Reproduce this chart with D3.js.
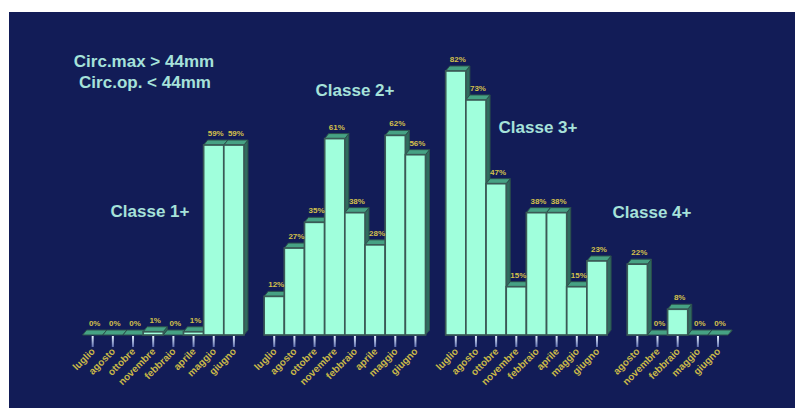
<!DOCTYPE html>
<html>
<head>
<meta charset="utf-8">
<script src="https://cdn.jsdelivr.net/npm/d3@7"></script>
<style>
  html, body { margin: 0; padding: 0; background: #ffffff; }
  svg { display: block; }
</style>
</head>
<body>
<svg id="chart" width="795" height="408"></svg>
<script>
// Month categories for each size class
const months1 = ["luglio", "agosto", "ottobre", "novembre", "febbraio", "aprile", "maggio", "giugno"];
const months2 = ["luglio", "agosto", "ottobre", "novembre", "febbraio", "aprile", "maggio", "giugno"];
const months3 = ["luglio", "agosto", "ottobre", "novembre", "febbraio", "aprile", "maggio", "giugno"];
const months4 = ["agosto", "novembre", "febbraio", "maggio", "giugno"];

// Percentages per month
const classe1 = [0, 0, 0, 1, 0, 1, 59, 59];
const classe2 = [12, 27, 35, 61, 38, 28, 62, 56];
const classe3 = [82, 73, 47, 15, 38, 38, 15, 23];
const classe4 = [22, 0, 8, 0, 0];

const classNames = ["Classe 1+", "Classe 2+", "Classe 3+", "Classe 4+"];
const subtitle = ["Circ.max > 44mm", "Circ.op. < 44mm"];

const W = 795, H = 408;
const svg = d3.select("#chart");

// dark panel
svg.append("rect")
  .attr("x", 9).attr("y", 12)
  .attr("width", W - 9).attr("height", H - 12)
  .attr("fill", "#121c57");

// flatten the groups into slots with an empty slot between groups
const groups = [
  { months: months1, values: classe1 },
  { months: months2, values: classe2 },
  { months: months3, values: classe3 },
  { months: months4, values: classe4 }
];
const bars = [];
const slots = [];
groups.forEach((g, gi) => {
  if (gi > 0) slots.push("gap" + gi);
  g.months.forEach((m, i) => {
    const key = gi + "|" + m;
    slots.push(key);
    bars.push({ key, month: m, value: g.values[i], group: gi });
  });
});

const x = d3.scaleBand().domain(slots).range([82.6, 728.1]).paddingInner(0).paddingOuter(0);
const y = d3.scaleLinear().domain([0, 100]).range([335, 13]);

const dx = 4, dy = 5;

const defs = svg.append("defs");
const tg = defs.append("linearGradient").attr("id", "tickGrad")
  .attr("x1", 0).attr("y1", 0).attr("x2", 0).attr("y2", 1);
tg.append("stop").attr("offset", "0%").attr("stop-color", "#e8f4ff");
tg.append("stop").attr("offset", "100%").attr("stop-color", "#5d6eb0");

// tick marks under each bar
const tickG = svg.append("g");
bars.forEach(b => {
  const cx = x(b.key) + x.bandwidth() / 2;
  tickG.append("rect")
    .attr("x", cx - 1).attr("y", y(0) + 1)
    .attr("width", 2).attr("height", 11)
    .attr("fill", "url(#tickGrad)");
});

// 3D bars, drawn left to right so each front face covers its neighbour's side
const barG = svg.append("g");
bars.forEach(b => {
  const x0 = x(b.key), x1 = x0 + x.bandwidth();
  const yt = y(b.value), yb = y(0);
  const g = barG.append("g");
  // right side face
  g.append("path")
    .attr("d", `M${x1},${yt} L${x1 + dx},${yt - dy} L${x1 + dx},${yb - dy} L${x1},${yb} Z`)
    .attr("fill", "#2f6c5e").attr("stroke", "#2c4f4c").attr("stroke-width", 1);
  // top face
  g.append("path")
    .attr("d", `M${x0},${yt} L${x0 + dx},${yt - dy} L${x1 + dx},${yt - dy} L${x1},${yt} Z`)
    .attr("fill", "#46a284").attr("stroke", "#2c4f4c").attr("stroke-width", 1);
  // front face
  if (b.value > 0) {
    g.append("rect")
      .attr("x", x0).attr("y", yt)
      .attr("width", x.bandwidth()).attr("height", yb - yt)
      .attr("fill", "#a0ffdc").attr("stroke", "#3a5a56").attr("stroke-width", 1.7);
  }
});

// value labels
const labG = svg.append("g")
  .attr("font-family", "Liberation Sans, Arial, sans-serif")
  .attr("font-weight", "bold").attr("font-size", 8)
  .attr("fill", "#d2c04c").attr("text-anchor", "middle");
bars.forEach(b => {
  labG.append("text")
    .attr("x", x(b.key) + x.bandwidth() / 2 + dx / 2)
    .attr("y", y(b.value) - dy - 4)
    .text(b.value + "%");
});

// rotated month labels
const axG = svg.append("g")
  .attr("font-family", "Liberation Sans, Arial, sans-serif")
  .attr("font-weight", "bold").attr("font-size", 10)
  .attr("fill", "#c9b848").attr("text-anchor", "end");
bars.forEach(b => {
  const cx = x(b.key) + x.bandwidth() / 2 + 3;
  axG.append("text")
    .attr("transform", `translate(${cx},${y(0) + 17}) rotate(-45)`)
    .text(b.month);
});

// titles
const tG = svg.append("g")
  .attr("font-family", "Liberation Sans, Arial, sans-serif")
  .attr("font-weight", "bold").attr("font-size", 17)
  .attr("fill", "#a6e2da").attr("text-anchor", "middle");
tG.append("text").attr("x", 144).attr("y", 67).text(subtitle[0]);
tG.append("text").attr("x", 145).attr("y", 88).text(subtitle[1]);
const classPos = [[150, 217], [355, 96], [538, 133], [652, 218]];
classNames.forEach((n, i) => {
  tG.append("text").attr("x", classPos[i][0]).attr("y", classPos[i][1]).text(n);
});
</script>
</body>
</html>
